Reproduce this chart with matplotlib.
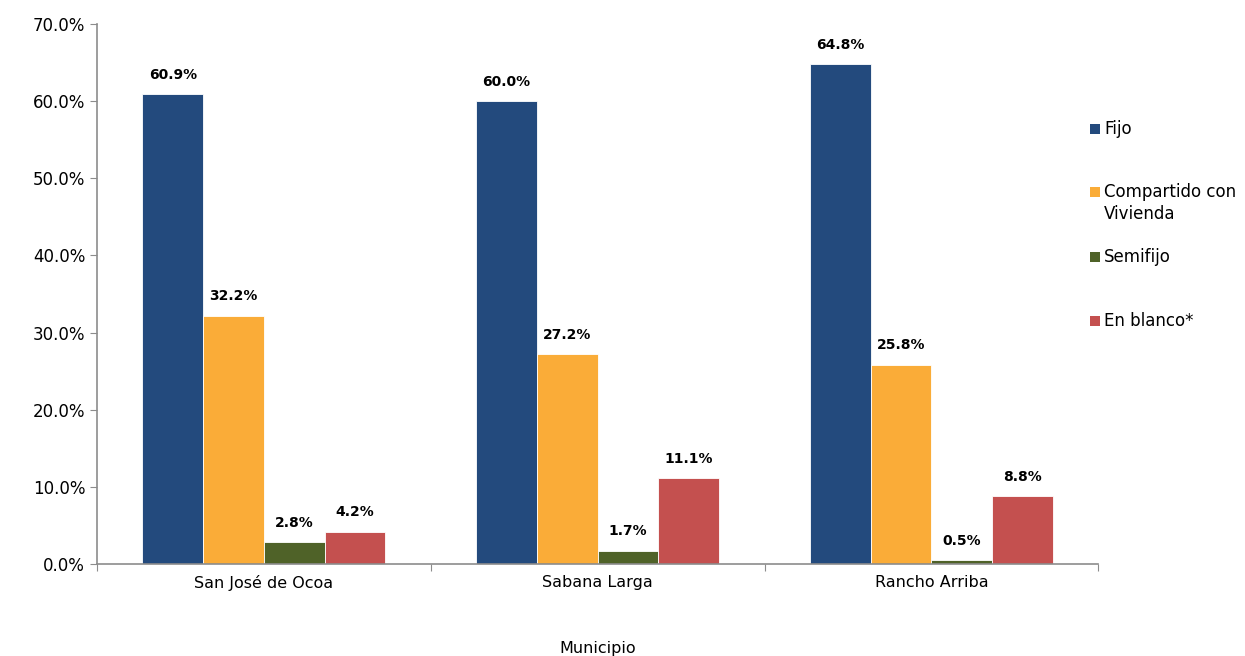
import numpy as np
import matplotlib.pyplot as plt
from matplotlib.patches import Rectangle

# Data
municipios = ["San José de Ocoa", "Sabana Larga", "Rancho Arriba"]
series = ["Fijo", "Compartido con\nVivienda", "Semifijo", "En blanco*"]
fijo = [60.9, 60.0, 64.8]
compartido = [32.2, 27.2, 25.8]
semifijo = [2.8, 1.7, 0.5]
en_blanco = [4.2, 11.1, 8.8]
colores = ["#234A7D", "#FAAC38", "#4F6228", "#C4504F"]

valores = [fijo, compartido, semifijo, en_blanco]

plt.rcParams['font.family'] = ['DejaVu Sans']

W, H = 1245, 656
fig = plt.figure(figsize=(W / 100, H / 100), dpi=100)
ax = fig.add_axes([0.0779, 0.1402, 0.8043, 0.8232])

x = np.arange(len(municipios))
ancho = 0.182
for i, (vals, col) in enumerate(zip(valores, colores)):
    pos = x + (i - 1.5) * ancho
    bars = ax.bar(pos, vals, width=ancho, color=col, edgecolor='white', linewidth=0.6)
    for b, v in zip(bars, vals):
        ax.annotate(f"{v:.1f}%", (b.get_x() + b.get_width() / 2, v),
                    xytext=(0, 9), textcoords='offset points',
                    ha='center', va='bottom', fontsize=10, fontweight='bold')

ax.set_xlim(-0.5, 2.5)
ax.set_ylim(0, 70)
ax.set_yticks(np.arange(0, 71, 10))
ax.set_yticklabels([f"{t:.1f}%" for t in np.arange(0, 71, 10)], fontsize=12)

ax.set_xticks([-0.5, 0.5, 1.5, 2.5])
ax.set_xticklabels([])
ax.set_xticks(x, minor=True)
ax.set_xticklabels(municipios, minor=True, fontsize=11.5)
ax.tick_params(axis='x', which='minor', length=0, pad=8)
ax.tick_params(axis='both', which='major', length=5, color='#8C8C8C', direction='out')

for s in ['top', 'right']:
    ax.spines[s].set_visible(False)
for s in ['left', 'bottom']:
    ax.spines[s].set_color('#8C8C8C')
    ax.spines[s].set_linewidth(1.2)

ax.set_xlabel("Municipio", fontsize=11.5, labelpad=36)

# legend drawn by hand to copy the uneven spacing of the original
leg_y = [129, 192, 257, 321]  # pixel rows (from top) of each entry's first line
for nombre, col, yp in zip(series, colores, leg_y):
    fig.patches.append(Rectangle(((1090) / W, 1 - (yp + 5) / H), 10 / W, 10 / H,
                                 transform=fig.transFigure, facecolor=col,
                                 edgecolor='none'))
    fig.text(1104 / W, 1 - (yp - 9) / H, nombre, fontsize=12, ha='left', va='top',
             linespacing=1.3)

fig.savefig("out.png", dpi=100)
